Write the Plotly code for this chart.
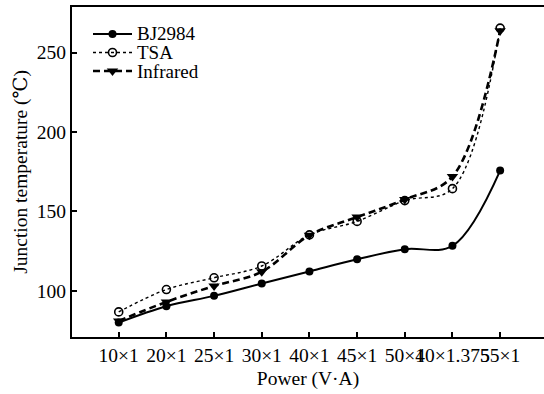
import plotly.graph_objects as go

categories = ["10×1", "20×1", "25×1", "30×1", "40×1", "45×1", "50×1", "40×1.375", "55×1"]
bj2984 = [80.0, 90.3, 96.8, 104.6, 112.2, 119.8, 126.2, 128.3, 175.7]
tsa = [86.7, 100.8, 108.2, 115.6, 135.2, 143.7, 156.8, 164.3, 265.4]
infrared = [81.0, 93.0, 103.0, 112.0, 135.0, 146.4, 157.5, 172.0, 263.7]
y_ticks = [100, 150, 200, 250]
series_names = ["BJ2984", "TSA", "Infrared"]

xs = list(range(len(categories)))
FONT = "Liberation Serif, Times New Roman, DejaVu Serif, serif"
FS = 19.5

W, H = 544, 394
ML, MR, MT, MB = 72, 0, 7, 57
PW, PH = W - ML - MR, H - MT - MB

def px_x(p):
    return (p - ML) / PW

def px_y(p):
    return (H - MB - p) / PH

styles = [
    dict(line=dict(color="black", width=2), marker=dict(symbol="circle", size=8, color="black")),
    dict(line=dict(color="black", width=1.4, dash="dot"),
         marker=dict(symbol="circle-open", size=8, color="black", line=dict(width=1.6))),
    dict(line=dict(color="black", width=2.6, dash="7px,4px"),
         marker=dict(symbol="triangle-down", size=10, color="black")),
]

fig = go.Figure()
for name, vals, st in zip(series_names, [bj2984, tsa, infrared], styles):
    fig.add_trace(go.Scatter(
        x=xs, y=vals, name=name, mode="lines+markers",
        line=dict(**st["line"], shape="spline", smoothing=1.0),
        marker=st["marker"], showlegend=False,
    ))

# manual legend (matching the reference's compact layout)
leg_rows = [34, 52.5, 71]
lx0, lx1, ltext = 93, 132, 136
for name, row, st in zip(series_names, leg_rows, styles):
    fig.add_trace(go.Scatter(
        x=[px_x(lx0), px_x(lx1)], y=[px_y(row), px_y(row)],
        xaxis="x2", yaxis="y2", mode="lines", line=st["line"],
        showlegend=False, hoverinfo="skip",
    ))
    fig.add_trace(go.Scatter(
        x=[px_x((lx0 + lx1) / 2)], y=[px_y(row)],
        xaxis="x2", yaxis="y2", mode="markers", marker=st["marker"],
        showlegend=False, hoverinfo="skip",
    ))
    fig.add_annotation(
        x=px_x(ltext), y=px_y(row), xref="paper", yref="paper",
        text=name, showarrow=False, xanchor="left", yanchor="middle",
        font=dict(size=19, family=FONT, color="black"), borderpad=0,
    )

fig.update_layout(
    width=W, height=H,
    margin=dict(l=ML, r=MR, t=MT, b=MB),
    paper_bgcolor="white", plot_bgcolor="white",
    font=dict(family=FONT, size=FS, color="black"),
    showlegend=False,
    xaxis=dict(
        range=[-0.98, 8.92],
        tickmode="array", tickvals=xs, ticktext=categories, tickangle=0,
        ticks="inside", ticklen=5, tickwidth=1.5, tickcolor="black",
        showline=True, linecolor="black", linewidth=2, mirror=True,
        showgrid=False, zeroline=False,
        tickfont=dict(size=FS, family=FONT),
        title=dict(text="Power (V·A)", font=dict(size=FS, family=FONT), standoff=6),
    ),
    yaxis=dict(
        range=[70.9, 278.7],
        tickmode="array", tickvals=y_ticks,
        ticks="inside", ticklen=5, tickwidth=1.5, tickcolor="black",
        showline=True, linecolor="black", linewidth=2, mirror=False,
        showgrid=False, zeroline=False,
        tickfont=dict(size=FS, family=FONT),
        title=dict(text="Junction temperature (℃)", font=dict(size=FS, family=FONT), standoff=4),
    ),
    xaxis2=dict(range=[0, 1], overlaying="x", visible=False, fixedrange=True),
    yaxis2=dict(range=[0, 1], overlaying="y", visible=False, fixedrange=True),
)

fig.write_html("out.html")
